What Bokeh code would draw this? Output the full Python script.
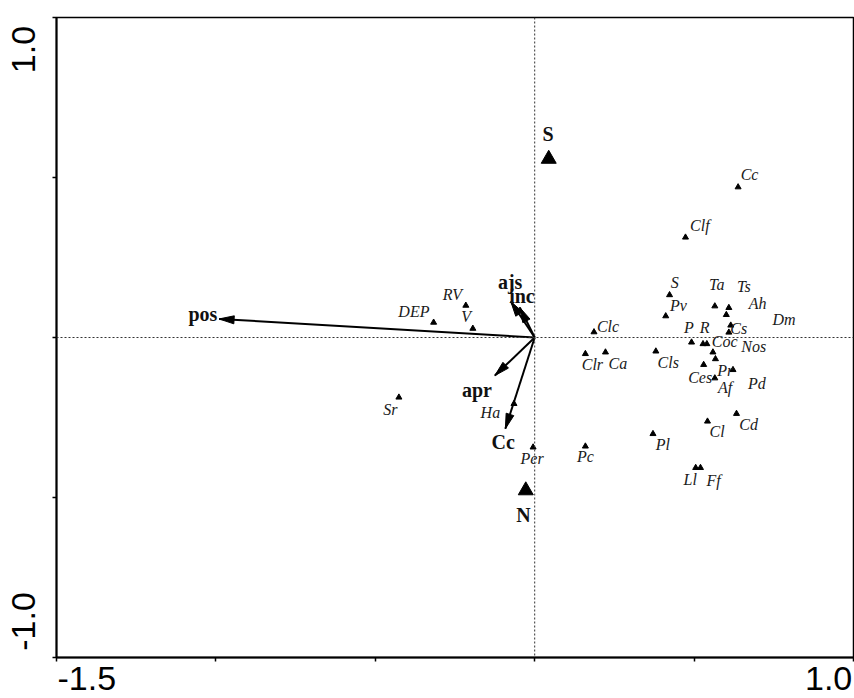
import numpy as np
from bokeh.plotting import figure
from bokeh.models import Range1d, FixedTicker, Span, LinearAxis
from bokeh.core.properties import value
from bokeh.embed import file_html
from bokeh.resources import INLINE

# ---- species scores ----
sp_names = ["Cc", "Clf", "S", "Pv", "Ta", "Ts", "Ah", "Dm", "Cs", "Clc", "P", "R",
            "Coc", "Nos", "Pr", "Pd", "Clr", "Ca", "Cls", "Ces", "Af", "Cd", "Cl",
            "Pl", "Pc", "Ll", "Ff", "RV", "V", "DEP", "Sr", "Ha", "Per"]
sp_x = [0.638, 0.473, 0.423, 0.411, 0.565, 0.609, 0.601, 0.615, 0.609, 0.186, 0.492, 0.528,
        0.540, 0.559, 0.567, 0.622, 0.159, 0.222, 0.380, 0.530, 0.565, 0.633, 0.542,
        0.371, 0.159, 0.505, 0.520, -0.216, -0.194, -0.317, -0.426, -0.065, -0.005]
sp_y = [0.470, 0.313, 0.133, 0.067, 0.098, 0.093, 0.071, 0.038, 0.016, 0.017, -0.015, -0.020,
        -0.020, -0.046, -0.067, -0.101, -0.051, -0.046, -0.043, -0.085, -0.127, -0.238, -0.262,
        -0.301, -0.340, -0.407, -0.407, 0.100, 0.028, 0.047, -0.187, -0.207, -0.343]
sp_lab_x = [0.674, 0.518, 0.439, 0.451, 0.571, 0.656, 0.699, 0.782, 0.640, 0.230, 0.484, 0.533,
            0.596, 0.687, 0.598, 0.697, 0.181, 0.261, 0.419, 0.519, 0.597, 0.671, 0.572,
            0.402, 0.159, 0.488, 0.561, -0.258, -0.215, -0.379, -0.453, -0.139, -0.008]
sp_lab_y = [0.509, 0.350, 0.171, 0.100, 0.166, 0.160, 0.107, 0.056, 0.029, 0.035, 0.032, 0.032,
            -0.0125, -0.027, -0.102, -0.145, -0.084, -0.080, -0.079, -0.126, -0.157, -0.273, -0.295,
            -0.335, -0.372, -0.445, -0.447, 0.134, 0.066, 0.082, -0.225, -0.235, -0.379]

# ---- environmental arrows ----
env_names = ["pos", "ajs", "inc", "apr", "Cc"]
env_x = [-0.990, -0.075, -0.047, -0.125, -0.092]
env_y = [0.058, 0.1125, 0.094, -0.119, -0.285]
env_lab_x = [-1.041, -0.077, -0.040, -0.181, -0.099]
env_lab_y = [0.072, 0.173, 0.131, -0.165, -0.327]

# ---- nominal variables ----
nom_names = ["S", "N"]
nom_x = [0.044, -0.028]
nom_y = [0.558, -0.478]
nom_lab_x = [0.042, -0.035]
nom_lab_y = [0.635, -0.556]

x_ticks = [-1.5, -1.0, -0.5, 0.0, 0.5, 1.0]
y_ticks = [-1.0, -0.5, 0.0, 0.5, 1.0]
# end labels of the axes (placed where the original printed them)
x_tick_labels = ["-1.5", "1.0"]
x_tick_label_at = [-1.405, 0.922]
y_tick_labels = ["1.0", "-1.0"]
y_tick_label_at = [0.90, -0.8875]

XMIN, XMAX, YMIN, YMAX = -1.5, 1.0, -1.0, 1.0
W, H = 854, 698
ML, MR, MT, MB = 56, 1, 17, 41

p = figure(width=W, height=H, x_range=Range1d(XMIN, XMAX), y_range=Range1d(YMIN, YMAX),
           output_backend="svg", toolbar_location=None, min_border_left=ML,
           min_border_right=MR, min_border_top=MT, min_border_bottom=MB)
p.grid.visible = False
p.background_fill_color = "white"
p.border_fill_color = "white"
p.outline_line_color = "black"
p.outline_line_width = 1.5

for ax, ticks in ((p.xaxis[0], x_ticks), (p.yaxis[0], y_ticks)):
    ax.ticker = FixedTicker(ticks=ticks)
    ax.major_label_overrides = {t: " " for t in ticks}
    ax.major_label_text_font_size = "1px"
    ax.major_label_standoff = 0
    ax.axis_line_width = 2
    ax.axis_line_color = "black"
    ax.major_tick_in = 0
    ax.major_tick_out = 4
    ax.major_tick_line_width = 1.5
    ax.minor_tick_line_color = None

# label-only axes
xlab_axis = LinearAxis(ticker=FixedTicker(ticks=x_tick_label_at),
                       major_label_overrides=dict(zip(x_tick_label_at, x_tick_labels)))
ylab_axis = LinearAxis(ticker=FixedTicker(ticks=y_tick_label_at),
                       major_label_overrides=dict(zip(y_tick_label_at, y_tick_labels)),
                       major_label_orientation="vertical")
for ax, so in ((xlab_axis, 1), (ylab_axis, 15)):
    ax.axis_line_color = None
    ax.major_tick_line_color = None
    ax.minor_tick_line_color = None
    ax.major_tick_in = 0
    ax.major_tick_out = 0
    ax.major_label_standoff = so
    ax.major_label_text_font = "Liberation Sans"
    ax.major_label_text_font_size = "34px"
    ax.major_label_text_color = "black"
p.add_layout(xlab_axis, "below")
p.add_layout(ylab_axis, "left")

fw = W - ML - MR
fh = H - MT - MB
sx = fw / (XMAX - XMIN)
sy = fh / (YMAX - YMIN)

p.add_layout(Span(location=0, dimension="height", line_color="#333333", line_width=1, line_dash="2 2"))
p.add_layout(Span(location=0, dimension="width", line_color="#333333", line_width=1, line_dash="2 2"))

# arrows (shaft + head polygon computed in screen-proportional space)
p.segment(x0=[0] * len(env_x), y0=[0] * len(env_y), x1=env_x, y1=env_y,
          line_color="black", line_width=2)
hx, hy = [], []
for ex, ey in zip(env_x, env_y):
    dx, dy = ex * sx, ey * sy
    L = np.hypot(dx, dy)
    ux, uy = dx / L, dy / L
    bl, hw = 15.0, 4.0
    bx, by = dx - bl * ux, dy - bl * uy
    px_, py_ = -uy, ux
    pts = [(dx, dy), (bx + hw * px_, by + hw * py_), (bx - hw * px_, by - hw * py_)]
    hx.append([q[0] / sx for q in pts])
    hy.append([q[1] / sy for q in pts])
p.patches(xs=hx, ys=hy, fill_color="black", line_color="black", line_width=1)

p.scatter(sp_x, sp_y, marker="triangle", size=6, fill_color="black", line_color="black")
p.text(x=sp_lab_x, y=sp_lab_y, text=sp_names, text_font=value("Liberation Serif"),
       text_font_style="italic", text_font_size="16px", text_color="#1a1a1a",
       text_align="center", text_baseline="middle")

p.scatter(nom_x, nom_y, marker="triangle", size=15, fill_color="black", line_color="black")
p.text(x=nom_lab_x, y=nom_lab_y, text=nom_names, text_font=value("Liberation Serif"),
       text_font_style="bold", text_font_size="20px", text_color="#111111",
       text_align="center", text_baseline="middle")

p.text(x=env_lab_x, y=env_lab_y, text=env_names, text_font=value("Liberation Serif"),
       text_font_style="bold", text_font_size="20px", text_color="#111111",
       text_align="center", text_baseline="middle")

open("out.html", "w").write(file_html(p, INLINE))
